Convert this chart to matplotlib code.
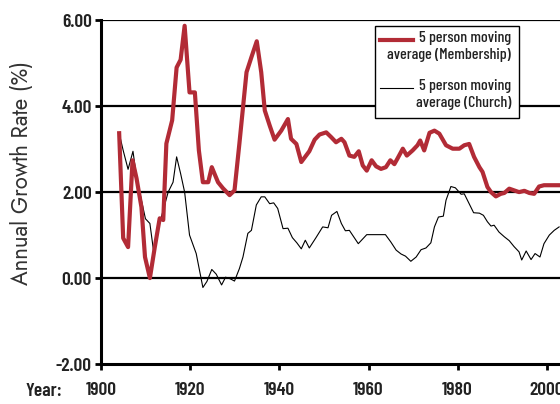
import matplotlib
matplotlib.use('Agg')
import matplotlib.pyplot as plt
from matplotlib.patches import Rectangle
from matplotlib.lines import Line2D

# 5 person moving average (Membership)
member_years = [1904.0, 1904.9, 1906.0, 1907.0, 1907.9, 1909.0, 1909.8, 1910.9, 1912.0, 1913.1,
                1913.9, 1914.6, 1915.9, 1916.9, 1917.8, 1918.7, 1919.8, 1921.0, 1921.9, 1922.8,
                1924.0, 1924.8, 1926.2, 1927.3, 1928.8, 1929.9, 1931.0, 1932.6, 1933.7, 1934.9,
                1935.9, 1936.7, 1937.8, 1938.9, 1940.4, 1941.9, 1942.6, 1943.8, 1944.9, 1946.7,
                1947.9, 1949.0, 1950.5, 1951.6, 1952.7, 1953.9, 1954.6, 1955.7, 1956.8, 1957.8,
                1958.7, 1959.6, 1960.7, 1961.7, 1962.8, 1963.9, 1964.9, 1965.8, 1966.5, 1967.7,
                1968.6, 1969.9, 1971.0, 1971.6, 1972.5, 1973.7, 1974.8, 1975.9, 1977.4, 1978.9,
                1980.4, 1981.5, 1982.6, 1983.7, 1984.9, 1985.6, 1986.7, 1987.5, 1988.6, 1989.7,
                1990.5, 1991.6, 1992.7, 1993.8, 1995.0, 1996.1, 1997.2, 1998.3, 1999.4, 2002.8]
member_rate = [3.37, 0.93, 0.72, 2.74, 2.32, 1.65, 0.49, 0.00, 0.72, 1.39,
               1.35, 3.13, 3.67, 4.90, 5.08, 5.87, 4.32, 4.32, 2.97, 2.23,
               2.23, 2.58, 2.23, 2.09, 1.93, 2.04, 3.13, 4.79, 5.14, 5.51,
               4.79, 3.90, 3.55, 3.22, 3.43, 3.70, 3.24, 3.12, 2.70, 2.95,
               3.22, 3.34, 3.39, 3.28, 3.16, 3.24, 3.16, 2.85, 2.82, 2.95,
               2.62, 2.50, 2.74, 2.60, 2.54, 2.58, 2.74, 2.65, 2.78, 3.01,
               2.85, 2.97, 3.09, 3.20, 2.97, 3.38, 3.43, 3.36, 3.09, 3.01,
               3.01, 3.09, 3.12, 2.82, 2.58, 2.47, 2.12, 2.00, 1.90, 1.96,
               1.98, 2.08, 2.04, 2.00, 2.03, 1.98, 1.96, 2.13, 2.16, 2.16]

# 5 person moving average (Church)
church_years = [1904.0, 1904.9, 1906.0, 1907.1, 1907.9, 1909.0, 1909.9, 1910.9, 1911.8, 1913.1,
                1915.0, 1916.1, 1916.9, 1917.8, 1918.7, 1919.8, 1921.3, 1922.8, 1923.7, 1924.8,
                1925.8, 1927.0, 1927.9, 1929.0, 1929.9, 1931.0, 1931.8, 1932.9, 1933.7, 1934.8,
                1935.9, 1936.7, 1937.8, 1938.7, 1939.6, 1940.8, 1941.9, 1942.9, 1943.9, 1944.9,
                1945.8, 1946.7, 1948.2, 1949.7, 1950.9, 1951.7, 1952.9, 1953.9, 1954.8, 1955.7,
                1957.7, 1959.6, 1963.8, 1965.0, 1966.2, 1967.3, 1968.3, 1969.5, 1970.7, 1971.8,
                1972.9, 1974.0, 1974.8, 1975.7, 1976.8, 1977.4, 1978.5, 1979.5, 1980.8, 1981.5,
                1982.6, 1983.6, 1984.9, 1985.8, 1986.7, 1987.5, 1988.2, 1989.3, 1990.5, 1991.6,
                1992.7, 1993.8, 1994.4, 1995.4, 1996.5, 1997.4, 1998.5, 1999.4, 2000.6, 2001.7,
                2002.8]
church_rate = [3.37, 2.97, 2.53, 2.95, 2.35, 1.81, 1.38, 1.27, 0.57, 1.28,
               2.00, 2.23, 2.82, 2.43, 2.00, 1.00, 0.57, -0.22, -0.08, 0.20,
               0.09, -0.16, 0.02, -0.02, -0.07, 0.22, 0.49, 1.04, 1.11, 1.70,
               1.89, 1.89, 1.73, 1.75, 1.62, 1.15, 1.16, 0.94, 0.82, 0.68,
               0.88, 0.70, 0.94, 1.19, 1.17, 1.46, 1.55, 1.27, 1.10, 1.11,
               0.80, 1.01, 1.01, 0.84, 0.65, 0.56, 0.51, 0.39, 0.49, 0.66,
               0.70, 0.82, 1.19, 1.42, 1.44, 1.81, 2.13, 2.10, 1.95, 1.96,
               1.73, 1.52, 1.51, 1.46, 1.31, 1.21, 1.23, 1.07, 0.96, 0.87,
               0.73, 0.61, 0.42, 0.63, 0.43, 0.57, 0.49, 0.80, 1.00, 1.11,
               1.19]

x_ticks = [1900, 1920, 1940, 1960, 1980, 2000]
y_ticks = [-2, 0, 2, 4, 6]
legend_labels = ['5 person moving\naverage (Membership)', '5 person moving\naverage (Church)']

cond = 'Barlow Condensed'
red = '#b22b36'
ink = '#222222'
W, H = 560, 404

fig = plt.figure(figsize=(W / 100, H / 100), dpi=100)
ax = fig.add_axes([0.181, 0.099, 0.819, 0.851])

for v in [0, 2, 4, 6]:
    ax.axhline(v, color='black', lw=1.6, zorder=1)

ax.plot(member_years, member_rate, color=red, lw=3.0, solid_joinstyle='round', zorder=3)
ax.plot(church_years, church_rate, color='black', lw=0.8, zorder=2)

ax.set_xlim(1900, 2003)
ax.set_ylim(-2, 6)
ax.set_xticks(x_ticks)
ax.set_yticks(y_ticks)
ax.set_yticklabels(['%.2f' % v for v in y_ticks])

for s in ['top', 'right']:
    ax.spines[s].set_visible(False)
ax.spines['left'].set_linewidth(2.2)
ax.spines['bottom'].set_linewidth(2.2)
ax.tick_params(direction='out', length=4, width=2, pad=3,
               labelsize=14, labelcolor=ink)
for t in ax.get_xticklabels() + ax.get_yticklabels():
    t.set_family(cond)
    t.set_weight(600)
ax.tick_params(axis='x', pad=9)

ax.set_ylabel('Annual Growth Rate (%)', fontsize=16, color='#333333',
              family='Jost', weight=400)
ax.yaxis.set_label_coords(-0.149, 0.555)
fig.text(44 / W, 1 - 392 / H, 'Year:', ha='center', va='center',
         fontsize=14, family=cond, weight=600, color=ink)


# legend drawn by hand: handle sits on the first line, text right aligned
def px(x, y):
    return x / W, 1 - y / H


box_x0, box_y0, box_x1, box_y1 = 375, 26, 519, 118
fig.patches.append(Rectangle(px(box_x0, box_y1), (box_x1 - box_x0) / W, (box_y1 - box_y0) / H,
                             transform=fig.transFigure, facecolor='white',
                             edgecolor='black', lw=1.0, zorder=5))
for i, (lab, col, lw) in enumerate(zip(legend_labels, [red, 'black'], [3.0, 0.8])):
    y_top = 40 + i * 48
    x0, y0 = px(380, y_top)
    x1, _ = px(413, y_top)
    fig.lines.append(Line2D([x0, x1], [y0, y0], transform=fig.transFigure,
                            color=col, lw=lw, zorder=6))
    tx, ty = px(511, y_top - 9)
    fig.text(tx, ty, lab, ha='right', va='top', ma='right', fontsize=11.5,
             family=cond, weight=500, color=ink, linespacing=1.3, zorder=7)

fig.savefig('out.png', dpi=100)
